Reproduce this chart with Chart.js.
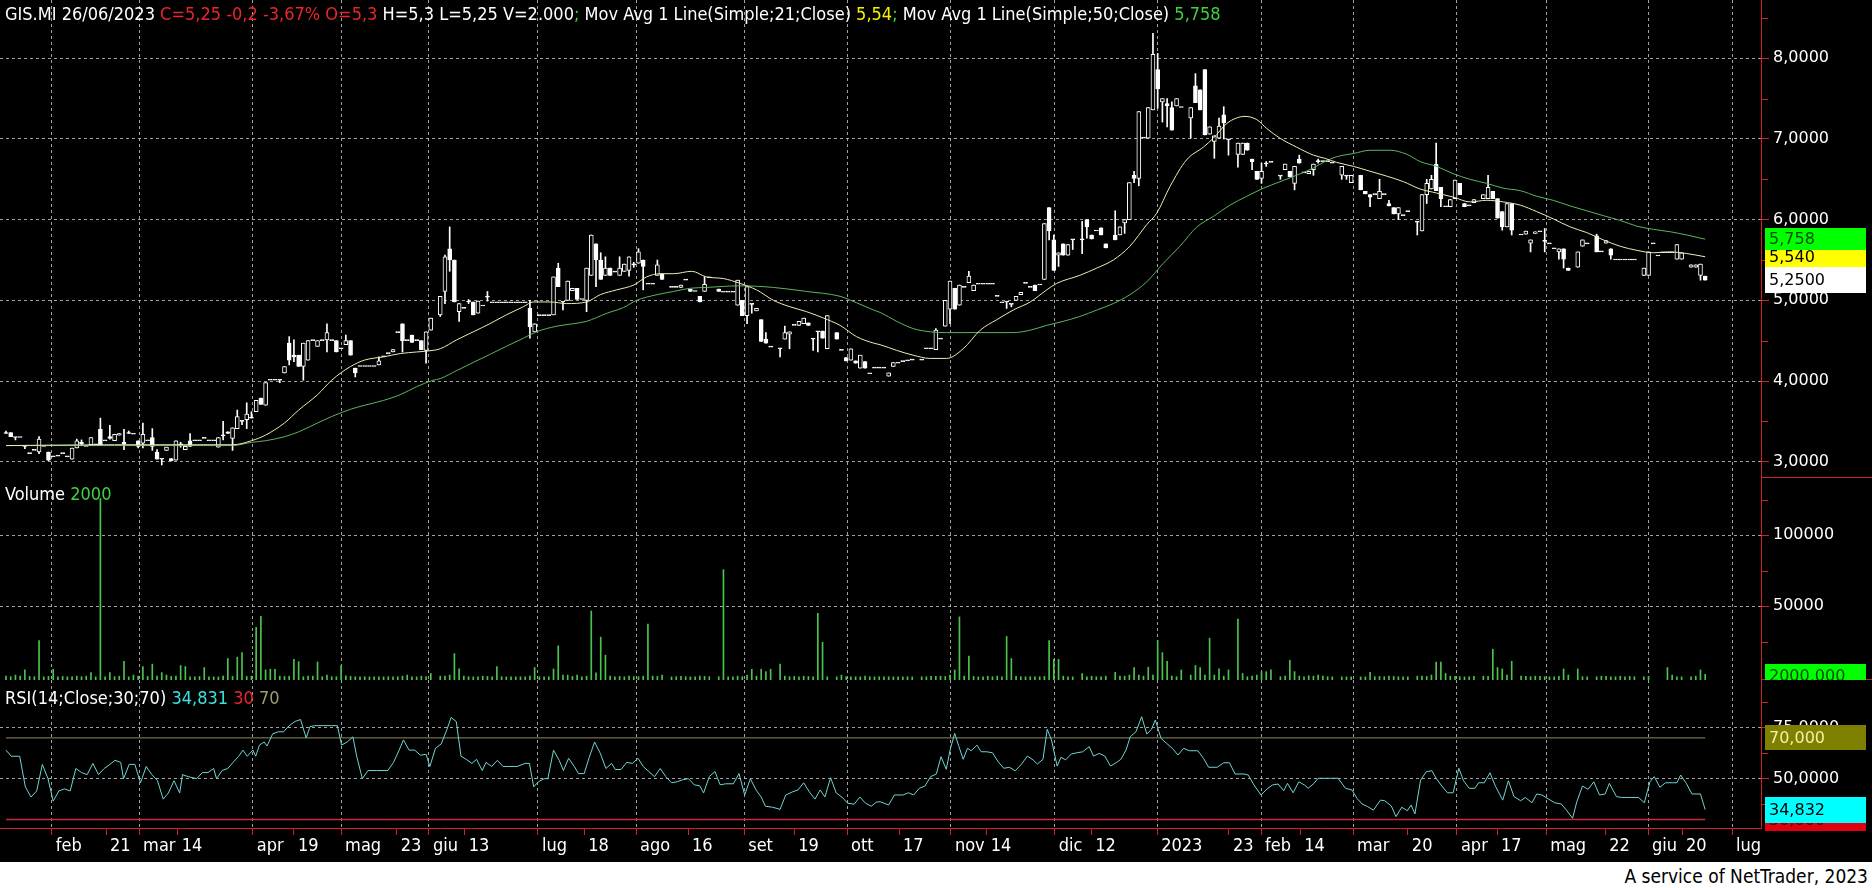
<!DOCTYPE html>
<html lang="it">
<head>
<meta charset="utf-8">
<title>GIS.MI</title>
<script src="https://cdn.jsdelivr.net/npm/chart.js@4.4.1/dist/chart.umd.min.js"></script>
<style>
html, body { margin: 0; padding: 0; background: #000; }
body { position: relative; width: 1872px; height: 888px; overflow: hidden; }
canvas { position: absolute; left: 0; }
#priceChart { top: 0; }
#volumeChart { top: 478px; }
#rsiChart { top: 680px; }
.legend { position: absolute; left: 5px; white-space: nowrap; color: #fff;
  font-family: "Liberation Sans Narrow", "Arial Narrow", "DejaVu Sans Condensed", sans-serif;
  font-size: 18px; line-height: 20px; }
.red { color: #e8262b; }
.grn { color: #3fd13f; }
.yel { color: #f2f200; }
.cyan { color: #3fe0e0; }
.olive { color: #a09c6c; }
#footer { position: absolute; left: 0; top: 862px; width: 1872px; height: 26px; background: #fff; }
#footer span { position: absolute; right: 4px; top: 3px; color: #000; white-space: nowrap;
  font-family: "Liberation Sans Narrow", "Arial Narrow", "DejaVu Sans Condensed", sans-serif; font-size: 19px; }
</style>
</head>
<body>
<canvas id="priceChart" width="1872" height="478"></canvas>
<canvas id="volumeChart" width="1872" height="202"></canvas>
<canvas id="rsiChart" width="1872" height="182"></canvas>
<div class="legend" style="top:4px">GIS.MI 26/06/2023 <span class="red">C=5,25 -0,2 -3,67% O=5,3</span> H=5,3 L=5,25 V=2.000<span class="grn">;</span> Mov Avg 1 Line(Simple;21;Close) <span class="yel">5,54</span><span class="grn">;</span> Mov Avg 1 Line(Simple;50;Close) <span class="grn">5,758</span></div>
<div class="legend" style="top:484px">Volume <span class="grn">2000</span></div>
<div class="legend" style="top:688px">RSI(14;Close;30;70) <span class="cyan">34,831</span> <span class="red">30</span> <span class="olive">70</span></div>
<div id="footer"><span>A service of NetTrader, 2023</span></div>
<script>
// daily bars, one per trading session: [open, high, low, close]; a plain number = flat session; null = no mark
const candles = [
  [3.35,3.38,3.35,3.35],[3.36,3.36,3.31,3.31],[3.30,3.30,3.27,3.30],3.30,[3.19,3.19,3.16,3.19],3.10,3.14,[3.12,3.31,3.10,3.28],3.19,[3.12,3.12,3.01,3.02],
  3.06,3.07,3.10,3.06,[3.03,3.17,3.03,3.17],[3.17,3.28,3.17,3.26],[3.24,3.27,3.21,3.22],3.19,[3.21,3.30,3.21,3.30],3.21,
  [3.40,3.54,3.21,3.21],3.26,[3.31,3.45,3.28,3.29],[3.26,3.34,3.26,3.34],[3.33,3.35,3.33,3.35],[3.24,3.40,3.15,3.22],[3.35,3.38,3.35,3.35],3.34,[3.26,3.26,3.17,3.19],[3.23,3.48,3.17,3.34],
  3.26,[3.30,3.41,3.14,3.19],[3.12,3.15,3.03,3.03],[3.03,3.03,2.96,3.03],[3.14,3.18,3.14,3.18],[3.04,3.04,3.01,3.01],[3.02,3.26,3.02,3.26],[3.21,3.24,3.18,3.21],[3.15,3.19,3.15,3.19],[3.26,3.35,3.19,3.19],
  3.26,3.26,3.29,3.26,3.26,[3.18,3.30,3.18,3.30],[3.32,3.50,3.27,3.32],[3.37,3.37,3.35,3.35],[3.29,3.42,3.14,3.42],[3.41,3.64,3.41,3.56],
  [3.50,3.50,3.46,3.50],[3.52,3.73,3.41,3.59],[3.54,3.62,3.54,3.54],[3.62,3.76,3.62,3.76],[3.79,3.79,3.71,3.71],[3.70,3.98,3.70,3.98],4.01,4.01,[4.01,4.01,3.98,4.01],[4.10,4.18,4.10,4.18],
  [4.47,4.55,4.20,4.26],[4.32,4.51,4.24,4.30],[4.32,4.32,4.18,4.18],[4.18,4.47,4.01,4.47],[4.26,4.50,4.26,4.50],4.50,[4.43,4.50,4.43,4.50],4.50,[4.51,4.71,4.36,4.60],4.50,
  [4.50,4.50,4.36,4.36],4.40,[4.45,4.57,4.45,4.50],[4.50,4.50,4.32,4.32],[4.16,4.16,4.05,4.10],4.18,4.18,4.18,4.18,[4.20,4.30,4.20,4.25],
  4.30,4.34,[4.36,4.39,4.36,4.39],4.60,[4.71,4.71,4.36,4.50],4.50,[4.57,4.57,4.48,4.48],4.50,[4.50,4.50,4.39,4.39],[4.38,4.61,4.22,4.61],
  [4.63,4.78,4.63,4.78],null,[4.82,5.05,4.80,5.05],[5.11,5.56,4.96,5.54],[5.64,5.91,5.36,5.50],[5.50,5.50,4.98,4.98],[4.86,4.96,4.74,4.96],4.90,[4.98,5.01,4.96,4.98],[4.98,4.98,4.82,4.82],
  [4.84,4.99,4.84,4.99],4.93,[5.04,5.11,4.99,5.04],4.97,4.97,4.97,4.97,4.97,4.97,4.97,
  4.97,[4.90,5.00,4.53,4.67],[4.61,4.71,4.61,4.71],4.81,4.81,4.81,[4.82,5.29,4.82,5.29],[5.40,5.46,5.17,5.17],[4.98,4.98,4.88,4.98],[5.00,5.24,5.00,5.24],
  [5.12,5.15,5.12,5.15],[5.15,5.15,5.01,5.01],5.01,[5.00,5.40,4.86,5.40],[5.31,5.81,5.31,5.81],[5.70,5.70,5.17,5.50],[5.50,5.59,5.26,5.26],[5.31,5.54,5.31,5.40],[5.40,5.40,5.31,5.31],5.35,
  [5.31,5.54,5.31,5.40],[5.36,5.45,5.36,5.45],[5.37,5.54,5.30,5.54],[5.44,5.47,5.41,5.44],[5.46,5.64,5.46,5.60],[5.50,5.50,5.13,5.42],5.20,5.20,[5.31,5.50,5.31,5.44],[5.33,5.33,5.26,5.26],
  null,5.16,5.16,[5.16,5.19,5.16,5.19],5.25,[5.14,5.14,5.11,5.11],5.11,[5.05,5.05,4.98,4.98],[5.11,5.29,5.11,5.20],5.28,
  null,[5.14,5.14,5.11,5.11],5.10,5.10,5.10,[4.94,5.25,4.94,5.25],[5.00,5.00,4.81,4.81],[4.81,5.17,4.71,5.17],[4.95,4.95,4.84,4.95],[4.87,4.90,4.87,4.90],
  [4.76,4.76,4.49,4.49],[4.52,4.60,4.47,4.47],4.42,null,[4.40,4.40,4.30,4.40],[4.52,4.68,4.52,4.60],[4.58,4.61,4.40,4.61],4.69,[4.69,4.74,4.69,4.74],[4.71,4.78,4.71,4.78],
  [4.72,4.72,4.69,4.69],[4.52,4.52,4.38,4.52],[4.61,4.61,4.36,4.61],[4.62,4.62,4.53,4.53],[4.40,4.81,4.40,4.81],null,[4.60,4.60,4.52,4.52],4.38,[4.29,4.29,4.25,4.25],[4.26,4.40,4.26,4.40],
  [4.25,4.25,4.22,4.22],[4.16,4.32,4.16,4.32],[4.24,4.24,4.16,4.16],4.09,4.16,4.16,4.16,[4.06,4.10,4.06,4.10],[4.18,4.23,4.18,4.23],4.22,
  4.24,4.25,4.26,null,4.26,4.40,4.40,[4.39,4.65,4.39,4.63],4.52,[4.68,5.00,4.68,5.00],
  [4.89,5.24,4.71,5.24],[5.15,5.15,4.89,4.89],[4.94,5.19,4.94,5.19],5.16,[5.22,5.36,5.22,5.30],[5.12,5.19,5.12,5.19],5.20,5.20,5.20,5.20,
  5.05,4.97,[4.98,4.98,4.90,4.98],[4.95,4.95,4.92,4.95],[5.00,5.05,5.00,5.05],[5.07,5.10,5.07,5.10],5.21,5.16,[5.19,5.19,5.12,5.12],5.19,
  [5.26,5.95,5.26,5.95],[6.15,6.15,5.75,5.86],[5.75,5.81,5.37,5.37],[5.56,5.59,5.42,5.59],[5.70,5.70,5.56,5.56],[5.56,5.69,5.56,5.69],[5.75,5.75,5.63,5.75],null,[5.75,5.98,5.58,5.75],[6.00,6.00,5.77,5.91],
  [5.81,5.81,5.76,5.76],5.86,[5.90,5.90,5.81,5.81],[5.70,5.70,5.65,5.65],null,[5.81,6.11,5.75,5.75],[5.81,5.91,5.81,5.91],[5.96,6.00,5.83,6.00],[6.00,6.46,6.00,6.46],[6.55,6.60,6.46,6.51],
  [6.51,7.34,6.42,7.34],7.01,[7.01,7.39,7.01,7.39],[7.36,8.31,7.36,8.05],[7.86,8.06,7.38,7.62],[7.46,7.50,7.21,7.50],[7.44,7.50,7.15,7.41],[7.39,7.46,7.11,7.11],[7.41,7.50,7.41,7.50],7.39,
  null,[7.26,7.39,7.01,7.39],[7.66,7.81,7.45,7.45],[7.61,7.61,7.36,7.36],[7.86,7.86,7.05,7.05],[7.06,7.15,7.06,7.15],[6.97,7.04,6.76,7.04],[7.01,7.26,7.01,7.16],[7.30,7.40,7.00,7.20],[6.99,6.99,6.80,6.99],
  null,[6.81,6.95,6.65,6.95],[6.81,6.95,6.81,6.95],[6.95,6.95,6.86,6.86],[6.75,6.75,6.62,6.72],[6.60,6.60,6.50,6.50],[6.51,6.70,6.45,6.60],[6.69,6.72,6.66,6.69],6.71,null,
  [6.54,6.54,6.50,6.54],[6.62,6.69,6.62,6.69],[6.60,6.60,6.53,6.53],[6.45,6.66,6.37,6.66],[6.75,6.80,6.70,6.70],6.58,[6.57,6.60,6.57,6.60],[6.62,6.69,6.55,6.69],[6.72,6.75,6.70,6.72],6.72,
  6.72,6.70,null,[6.55,6.66,6.50,6.66],[6.54,6.54,6.50,6.54],[6.46,6.55,6.46,6.55],null,[6.55,6.55,6.37,6.37],[6.35,6.35,6.32,6.32],[6.31,6.31,6.16,6.28],
  6.31,[6.26,6.50,6.26,6.35],6.31,[6.20,6.24,6.17,6.17],[6.15,6.15,6.07,6.07],[6.07,6.15,6.00,6.15],6.05,6.10,null,[5.97,5.97,5.81,5.97],
  [5.86,6.31,5.86,6.31],[6.31,6.50,6.20,6.45],[6.38,6.55,6.38,6.50],[6.69,6.95,6.36,6.36],[6.40,6.40,6.16,6.26],6.16,[6.16,6.25,6.16,6.25],[6.26,6.49,6.26,6.49],[6.45,6.45,6.31,6.31],[6.20,6.20,6.16,6.16],
  6.17,[6.21,6.25,6.21,6.25],null,[6.26,6.31,6.26,6.31],[6.26,6.55,6.26,6.40],[6.35,6.35,6.26,6.26],[6.26,6.26,6.02,6.02],[6.10,6.10,5.87,5.91],[5.91,6.20,5.91,6.20],[6.20,6.20,5.81,5.87],
  null,5.81,[5.82,5.86,5.82,5.86],[5.71,5.75,5.60,5.75],[5.83,5.85,5.83,5.85],5.85,[5.73,5.89,5.60,5.73],5.70,5.64,[5.60,5.64,5.51,5.64],
  [5.64,5.64,5.40,5.51],[5.40,5.40,5.37,5.37],null,[5.41,5.60,5.41,5.60],[5.67,5.75,5.67,5.75],5.70,null,[5.80,5.82,5.60,5.60],5.60,[5.71,5.74,5.71,5.74],
  [5.64,5.64,5.51,5.56],5.50,5.50,5.50,5.50,5.50,null,[5.31,5.40,5.31,5.40],[5.31,5.60,5.31,5.60],5.70,
  5.55,5.59,5.59,5.59,[5.51,5.69,5.51,5.69],[5.51,5.59,5.51,5.59],null,[5.41,5.44,5.41,5.44],[5.41,5.44,5.41,5.44],[5.31,5.45,5.25,5.45],
  [5.30,5.30,5.25,5.25]
];

const volumes = [
  700,300,1460,700,5100,500,300,25800,200,500,
  5600,300,500,300,200,700,300,700,3200,200,
  126000,300,3200,300,700,11200,200,1460,700,7500,
  500,9200,700,3200,1460,500,700,8200,7500,300,
  200,500,6800,300,200,200,700,13100,500,14100,
  17300,500,700,35100,42900,5100,5600,5600,700,500,
  700,12600,10900,300,700,700,10700,300,1460,300,
  300,8200,1000,500,300,200,300,200,300,200,
  200,300,200,300,700,1460,300,200,700,300,
  2600,null,700,700,1460,16600,5800,700,300,200,
  300,700,500,200,7500,300,200,300,200,300,
  200,700,6800,300,200,300,5800,22100,1460,1460,
  500,1460,300,700,46600,3000,28200,15500,700,300,
  500,200,700,300,300,700,37500,700,500,1460,
  null,200,300,500,300,200,300,700,500,300,
  null,300,75800,300,200,700,300,1460,5600,700,
  5600,3900,5600,null,9200,700,300,500,300,700,
  500,300,45000,24600,300,null,200,1460,300,200,
  300,200,700,300,200,300,200,300,200,300,
  200,300,200,null,300,300,500,500,700,500,
  1460,5100,42500,700,14800,500,200,300,700,300,
  700,300,28700,13100,500,300,200,300,200,300,
  500,25800,12600,12600,700,300,200,null,2600,300,
  700,300,200,700,null,3400,700,700,1460,6800,
  1460,700,7000,1460,25800,17300,11200,700,300,5100,
  null,1460,8200,6800,1460,27500,1460,5800,700,5100,
  null,41000,2600,300,700,1460,3900,3900,5100,null,
  300,700,11900,3900,700,300,1000,700,1460,700,
  300,200,null,200,200,200,null,200,200,3400,
  300,500,300,700,500,300,200,300,null,700,
  700,500,1460,10700,10700,2600,700,500,300,200,
  300,500,null,700,500,19700,6800,5800,1460,11200,
  null,700,500,300,700,500,300,200,300,500,
  5800,1460,null,5800,300,200,null,300,700,500,
  200,300,700,300,500,300,null,200,500,null,
  null,null,6800,1460,300,200,null,200,700,5100,
  2000
];

const ma21Days = [0,23,48,52,55,59,62,66,69,73,76,80,83.5,87,90.5,92,95.5,99,102.5,106,109.6,111.7,115.3,118.8,123,125.9,129.4,133,135.7,138.6,141.4,145.3,148.4,152,155.5,159,162.6,166.1,169.6,173.2,176.7,180.2,183.8,185.2,188.7,192.2,195.8,199.3,202.8,206.4,209.9,213.4,217,220.5,222.6,227.5,231.1,234.6,238.1,241.7,243.8,246.6,250.1,253.7,255.8,258.6,260.7,262.5,265,267.1,269.9,273.4,277,279.4,281.9,285.5,289,292.5,296.1,299.6,303.1,306.6,310.2,313.7,317.2,320.8,324.3,327.8,331.4,334.9,338.4,342,345.5,349,352.6,356.1,360];
const ma21 = [3.20,3.21,3.21,3.26,3.33,3.48,3.64,3.83,4.01,4.18,4.26,4.30,4.34,4.36,4.38,4.40,4.51,4.61,4.71,4.82,4.92,4.98,4.98,4.96,4.98,5.07,5.13,5.19,5.29,5.33,5.33,5.36,5.29,5.27,5.21,5.13,5.00,4.92,4.86,4.78,4.69,4.55,4.47,4.45,4.38,4.32,4.28,4.28,4.40,4.63,4.76,4.88,4.98,5.13,5.21,5.31,5.40,5.50,5.67,5.94,6.08,6.41,6.74,6.90,7.01,7.19,7.26,7.28,7.24,7.13,7.01,6.90,6.80,6.76,6.71,6.66,6.60,6.54,6.47,6.38,6.33,6.28,6.22,6.24,6.22,6.18,6.10,6.01,5.91,5.84,5.75,5.67,5.62,5.59,5.60,5.58,5.54];

const ma50Days = [0,23,48,52,55,59,62,66,69,73,76,80,83.5,87,90.5,92,95.5,99,102.5,106,109.6,112.4,116.7,120.2,123,127.3,130.8,133.6,137.9,141.4,145,148.4,155.5,162.6,169.6,176.7,180.2,183.8,185.2,188.7,192.2,195.8,199.3,206.4,213.4,217,220.5,224,227.5,231.1,234.6,238.1,241.7,245.2,248.7,252.3,255.8,259.3,262.9,266.4,269.9,273.4,277,279.4,281.9,285.5,289,293.2,296.8,299.6,303.1,306.6,310.2,313.7,317.2,320.8,324.3,327.8,331.4,334.9,338.4,342,345.5,349,352.6,356.1,360];
const ma50 = [3.20,3.20,3.20,3.24,3.26,3.31,3.37,3.48,3.56,3.65,3.70,3.76,3.83,3.93,4.01,4.03,4.13,4.23,4.33,4.43,4.53,4.61,4.68,4.71,4.74,4.84,4.91,5.00,5.07,5.11,5.15,5.16,5.18,5.16,5.11,5.05,4.97,4.88,4.85,4.74,4.65,4.61,4.60,4.60,4.60,4.63,4.69,4.74,4.80,4.88,4.96,5.07,5.23,5.46,5.67,5.91,6.04,6.18,6.29,6.39,6.47,6.55,6.64,6.72,6.78,6.82,6.86,6.86,6.81,6.72,6.66,6.57,6.50,6.45,6.39,6.36,6.29,6.24,6.17,6.11,6.05,5.99,5.92,5.88,5.85,5.81,5.758];

const rsiDays = [
  0,1.1,2.9,4.1,5.3,6.5,7.7,8.9,10,11.2, 12.4,13.6,14.8,16,17.2,18.4,19.6,20.8,22,23.1,
  24.3,24.9,26.1,27.3,28.5,29.7,30.9,32.1,33.3,34.4, 35.6,36.8,37.4,38.6,40.4,41.6,42.8,44,44.6,45.8,
  47,48.1,49.3,50.2,51.1,52.3,52.9,53.7,54.7,55.3, 56.5,57.7,58.8,60,61.2,62.4,63.6,64.4,65.4,67.2,
  69,70.2,71.1,72.3,73.5,74.3,75.5,76.7,78.5,80.9, 82.1,83.3,84.2,85.4,86.6,87.8,89,89.8,91,92.2,
  93.4,94.3,95.4,96.4,97.5,98.7,99.7,100.9,101.7,102.9, 104.1,105.3,106.5,108.3,110,110.9,111.8,112.8,114,114.8,
  116,117.2,118.1,119.2,120.4,121.3,122.5,123.5,124.7,125.9, 127.1,128.3,129.1,130.3,131.5,132.7,133.9,135,136.2,137.4,
  138.6,139.8,141,142.2,143.4,144.6,145.8,147,147.8,149, 150.2,151.3,152.5,154.1,155.3,156.5,157.7,158.9,160,160.9,
  162.4,164,165.2,166.6,167.8,169,170.2,171.4,172.5,173.5, 174.7,175.9,177.1,178.3,179.7,180.9,182.1,183.3,184.4,
  185.2,187,188.2,190,191.2,192.3,193.5,194.7,195.9,197.1, 198.1,199.2,200.1,201,201.9,202.8,203.7,204.5,205.7,206.6,
  207.8,209,210.2,211.4,212.6,213.8,215,216.4,217.6,218.5, 219.7,220.6,221.5,222.7,223.5,224.5,225.7,226.9,228.1,229.5,
  230.4,231.6,232.8,234,235.2,236.2,237.3,238.2,239.4,240.6, 241.7,242.7,243.5,244.7,245.9,247.1,248.3,249.5,250.7,252.5,
  253.7,254.8,256.6,258,259.2,260.4,262.3,263.2,264.4,265.9, 267.1,268.3,269.5,270.7,271.5,272.7,273.9,275.1,275.9,277.1,
  278,280.4,282.2,283.8,285.2,286.2,287.3,288.5,289.7,291.2, 292.1,293.5,294.5,295.7,296.9,297.7,298.5,299.7,300.9,302.1,
  303,304.2,305.4,306.6,307.8,308.8,310,311.2,312,313.2, 314.4,315.6,317.1,318.3,319.5,320.9,321.9,323.3,324.3,325.4,
  326.9,328.1,329.5,330.7,331.9,332.8,334,335.2,336.4,337.6, 338.8,339.7,341.2,342.3,344.1,345.9,347.1,348.3,349.2,350.4,
  351.6,353,354,354.8,356,357.2,359,360
];
const rsiValues = [
  64,61,61,46,41,44,57,50,39,44, 45,44,55,53,52,57.5,52,55,57,59,
  58,50,57,57,48,56,52,49,40,43, 49,43,52,51,50,53,53,55,50,54,
  55,58,61,64,61,64,61,66.5,68,66, 72,73,73,76,78,79,70,75.5,76,76,
  76,76,66.5,68,70.5,61,50,54,54,54, 58,64,69,64,64,61.5,62,56,65,67,
  74,80,78,61,59.5,57.5,59.5,54,58,56, 59,56,56,56,57.5,57.5,46,48.5,50,50,
  64,59,54,60,56,52.5,52.5,60,68,62.5, 55,57.5,54.5,54.5,58,57.5,60,56,53.5,51,
  55,51,48,48.5,49.5,50,47,46.5,43,51, 53.5,47,47.5,47.5,52.5,42,50,44.5,41,36.5,
  36,35,42,43.5,44.5,48,43.5,40,44.5,41, 50.5,43,41,38,37.5,41,38,36.5,38.5,
  38.7,37.1,42,42,43.1,42,45.3,46.4,51,52.3, 60.8,54.6,64.9,72.2,65.7,59.5,64.9,63.7,66.5,63.2,
  63.2,62.7,58.3,55.1,55.6,53.9,56.7,61.1,59.2,57.2, 59.5,74.2,69,56.2,60.5,59.2,62.1,62.7,63.2,65.7,
  61.1,62.4,61.1,56.2,57.8,59.5,64.1,70.6,73,80.4, 71.9,74.2,78.8,69.8,67.3,64.9,61.6,64.9,63.7,63.7,
  60,55.6,55.6,57.8,57.8,52.3,52.3,51.8,46.9,42, 44.8,46.9,47.4,44.1,47.7,43.1,48.5,46.9,45.3,47.7,
  50.2,50.2,50.2,45.3,44.4,40.4,37.6,36.3,34.6,39.5, 39.2,36.6,31.4,36,34.3,37.1,32.7,49.3,53.4,53.9,
  50.2,46.4,43.1,43.1,55.1,49,45.3,45.3,48,48, 52.9,46.1,39.5,49,41.2,39.2,40.8,38.2,42.5,42,
  39.9,38.2,37.6,34.3,30.6,38.7,46.4,44.8,48.5,42, 42.5,47.7,41.2,40.8,40.8,40.8,38.2,48.5,51,45.8,
  48,48,48,51.8,47.7,42.5,42.5,34.8
];

// time axis: month starts (with grid) and mid-month marks (ticks only), in session units
const monthTicks = [9.7,28.2,52.3,71,89.6,112.7,133.5,156.4,178.2,200.2,222.2,243.9,265.9,285.4,307.4,326.3,347.9,365.7];
const monthLabels = ['feb','mar','apr','mag','giu','lug','ago','set','ott','nov','dic','2023','feb','mar','apr','mag','giu','lug'];
const dayTicks = [21.2,36.4,61,82.8,97.2,122.5,144.5,167,189.2,207.8,229.9,259.1,274.2,297,315.9,338.8,355.1];
const dayLabels = ['21','14','19','23','13','18','16','19','17','14','12','23','14','20','17','22','20'];

const priceTicks = [3, 4, 5, 6, 7, 8];
const priceMinor = [3.5, 4.5, 5.5, 6.5, 7.5, 8.5];
const volumeTicks = [50000, 100000];
const volumeMinor = [25000, 75000, 125000];
const rsiTicks = [50, 75];
const rsiMinor = [37.5, 62.5, 87.5];

const lastClose = 5.25, lastMa21 = 5.54, lastMa50 = 5.758, lastVolume = 2000, lastRsi = 34.832;
const rsiLow = 30, rsiHigh = 70;

const RED = '#d0202a';
const GRID = 'rgba(200,200,200,0.8)';
const AXIS_W = 111;
const BAR_PX = 4.72;
const X_MIN = -6 / BAR_PX;
const X_MAX = X_MIN + (1872 - AXIS_W) / BAR_PX;
const NARROW = '"Liberation Sans Narrow", "Arial Narrow", "DejaVu Sans Condensed", sans-serif';

Chart.defaults.font.family = 'DejaVu Sans';
Chart.defaults.animation = false;

const monthSet = new Set(monthTicks);
const xLabels = new Map();
monthTicks.forEach((v, i) => xLabels.set(v, monthLabels[i]));
dayTicks.forEach((v, i) => xLabels.set(v, dayLabels[i]));
const allTicks = monthTicks.concat(dayTicks).sort((a, b) => a - b);

const bars = candles.map((c, i) => {
  if (c === null) return null;
  const q = Array.isArray(c) ? c : [c, c, c, c];
  return { i: i, o: q[0], h: q[1], l: q[2], c: q[3] };
}).filter(Boolean);

function xAxis(withLabels) {
  return {
    type: 'linear', min: X_MIN, max: X_MAX, offset: false,
    afterBuildTicks: s => { s.ticks = (withLabels ? allTicks : monthTicks).map(v => ({ value: v })); },
    afterFit: s => { s.height = withLabels ? 34 : 0; s.paddingLeft = 0; s.paddingRight = 0; },
    border: { display: withLabels, color: RED, width: 1, dash: [3, 3] },
    grid: {
      color: c => (c.tick && monthSet.has(c.tick.value)) ? GRID : 'rgba(0,0,0,0)',
      drawTicks: withLabels, tickLength: 7, tickColor: RED, tickBorderDash: [], offset: false
    },
    ticks: {
      display: withLabels, autoSkip: false, maxRotation: 0, minRotation: 0,
      align: 'start', labelOffset: 4, padding: 1, color: '#fff',
      font: { family: NARROW, size: 18 },
      callback: v => xLabels.get(v) || ''
    }
  };
}

function yAxis(min, max, values, fmt) {
  return {
    position: 'right', min: min, max: max,
    afterBuildTicks: s => { s.ticks = values.map(v => ({ value: v })); },
    afterFit: s => { s.width = AXIS_W; s.paddingTop = 0; s.paddingBottom = 0; },
    border: { color: RED, width: 1, dash: [3, 3] },
    grid: { color: GRID, drawTicks: true, tickLength: 8, tickColor: RED, tickBorderDash: [] },
    ticks: { color: '#fff', padding: 4, font: { family: 'DejaVu Sans', size: 16 }, callback: fmt }
  };
}

const comma = (v, d) => v.toFixed(d).replace('.', ',');

const axisExtras = {
  id: 'axisExtras',
  afterDraw(chart, args, o) {
    const ctx = chart.ctx, ys = chart.scales.y, area = chart.chartArea;
    ctx.save();
    ctx.strokeStyle = RED;
    ctx.lineWidth = 1;
    (o.minor || []).forEach(v => {
      const py = Math.round(ys.getPixelForValue(v)) + 0.5;
      ctx.beginPath(); ctx.moveTo(ys.left, py); ctx.lineTo(ys.left + 7, py); ctx.stroke();
    });
    if (o.separator) {
      ctx.beginPath(); ctx.moveTo(area.right, area.bottom - 0.5); ctx.lineTo(chart.width, area.bottom - 0.5); ctx.stroke();
    }
    ctx.font = '16px "DejaVu Sans"';
    ctx.textBaseline = 'middle';
    (o.tags || []).forEach(t => {
      const py = ys.getPixelForValue(t.value) + (t.dy || 0);
      ctx.fillStyle = t.bg;
      ctx.fillRect(ys.left + 4, Math.round(py - t.h / 2), 101, t.h);
      ctx.fillStyle = t.fg;
      ctx.fillText(t.text, ys.left + 8, py + 1);
    });
    ctx.restore();
  }
};

const common = {
  responsive: false, devicePixelRatio: 1, animation: false,
  layout: { padding: 0 },
  plugins: { legend: { display: false }, tooltip: { enabled: false } }
};

// price panel
new Chart(document.getElementById('priceChart'), {
  type: 'bar',
  data: {
    datasets: [
      { type: 'line', order: 0, data: ma21Days.map((d, i) => ({ x: d, y: ma21[i] })),
        borderColor: '#ecebb4', borderWidth: 1, pointRadius: 0, cubicInterpolationMode: 'monotone' },
      { type: 'line', order: 0, data: ma50Days.map((d, i) => ({ x: d, y: ma50[i] })),
        borderColor: '#5fb35f', borderWidth: 1, pointRadius: 0, cubicInterpolationMode: 'monotone' },
      { order: 1, grouped: false, barThickness: 4, minBarLength: 1, borderSkipped: false,
        data: bars.map(b => ({ x: b.i, y: [b.o, b.c], up: b.c > b.o })),
        backgroundColor: c => (c.raw && c.raw.up) ? '#000' : '#fff',
        borderColor: '#fff', borderWidth: 1 },
      { order: 2, grouped: false, barThickness: 1, borderSkipped: false,
        data: bars.filter(b => b.h > b.l).map(b => ({ x: b.i, y: [b.l, b.h] })),
        backgroundColor: '#fff', borderWidth: 0 }
    ]
  },
  options: Object.assign({}, common, {
    scales: {
      x: xAxis(false),
      y: yAxis(2.798, 8.7226, priceTicks, v => comma(v, 4))
    },
    plugins: Object.assign({}, common.plugins, {
      axisExtras: {
        minor: priceMinor, separator: true,
        tags: [
          { value: lastMa21, text: comma(lastMa21, 3), bg: '#ffff00', fg: '#000', h: 24 },
          { value: lastClose, text: comma(lastClose, 4), bg: '#ffffff', fg: '#000', h: 26 },
          { value: lastMa50, text: comma(lastMa50, 3), bg: '#00ff00', fg: '#064a06', h: 22 }
        ]
      }
    })
  }),
  plugins: [axisExtras]
});

// volume panel
const VOL_MIN = -2000;
const VOL_MAX = 140400;
new Chart(document.getElementById('volumeChart'), {
  type: 'bar',
  data: {
    datasets: [
      { grouped: false, barThickness: 1, base: VOL_MIN,
        data: volumes.map((v, i) => v === null ? null : { x: i, y: v }).filter(Boolean),
        backgroundColor: '#4cc44c', borderWidth: 0 }
    ]
  },
  options: Object.assign({}, common, {
    scales: {
      x: xAxis(false),
      y: yAxis(VOL_MIN, VOL_MAX, volumeTicks, v => String(v))
    },
    plugins: Object.assign({}, common.plugins, {
      axisExtras: {
        minor: volumeMinor, separator: true,
        tags: [ { value: lastVolume, text: comma(lastVolume, 3), bg: '#00ff00', fg: '#064a06', h: 24, dy: 2 } ]
      }
    })
  }),
  plugins: [axisExtras]
});

// RSI panel
const lastIdx = candles.length - 1;
new Chart(document.getElementById('rsiChart'), {
  type: 'line',
  data: {
    datasets: [
      { data: rsiDays.map((d, i) => ({ x: d, y: rsiValues[i] })),
        borderColor: '#72d4d4', borderWidth: 1, pointRadius: 0, tension: 0 },
      { data: [{ x: 0, y: rsiHigh }, { x: lastIdx, y: rsiHigh }],
        borderColor: '#8f8b62', borderWidth: 1, pointRadius: 0 },
      { data: [{ x: 0, y: rsiLow }, { x: lastIdx, y: rsiLow }],
        borderColor: '#c42a3a', borderWidth: 1.5, pointRadius: 0 }
    ]
  },
  options: Object.assign({}, common, {
    scales: {
      x: xAxis(true),
      y: yAxis(25.83, 98.38, rsiTicks, v => comma(v, 4))
    },
    plugins: Object.assign({}, common.plugins, {
      axisExtras: {
        minor: rsiMinor,
        tags: [
          { value: rsiLow, text: comma(rsiLow, 3), bg: '#e00010', fg: '#5a0000', h: 24 },
          { value: lastRsi, text: comma(lastRsi, 3), bg: '#00ffff', fg: '#000', h: 26 },
          { value: rsiHigh, text: comma(rsiHigh, 3), bg: '#808000', fg: '#f4f0a0', h: 25 }
        ]
      }
    })
  }),
  plugins: [axisExtras]
});
</script>
</body>
</html>
